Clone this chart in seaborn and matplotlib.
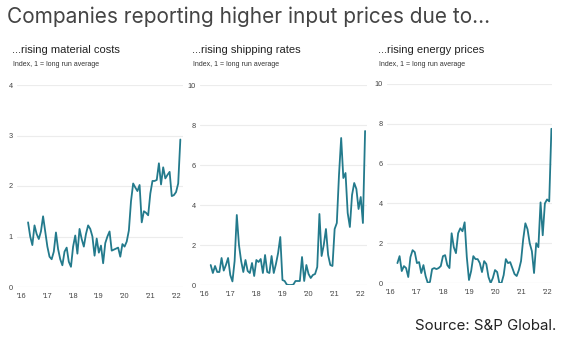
import numpy as np
import pandas as pd
import matplotlib
matplotlib.use("Agg")
import matplotlib.pyplot as plt
import seaborn as sns

# ---- data (monthly, Apr 2016 - Mar 2022) ----
months = pd.date_range("2016-04-01", "2022-03-01", freq="MS")

material_costs = [
    1.28, 1.00, 0.83, 1.22, 1.05, 0.95, 1.10, 1.40, 1.10,
    0.80, 0.60, 0.55, 0.70, 1.08, 0.75, 0.55, 0.43, 0.70, 0.78, 0.50, 0.40,
    0.80, 1.02, 0.66, 1.15, 0.95, 0.80, 1.05, 1.22, 1.15, 1.00, 0.62, 0.96,
    0.68, 0.82, 0.47, 0.87, 1.00, 1.10, 0.72, 0.74, 0.76, 0.78, 0.60, 0.85,
    0.80, 0.90, 1.12, 1.70, 2.05, 1.97, 1.90, 2.02, 1.28, 1.50, 1.47, 1.42,
    1.85, 2.10, 2.10, 2.12, 2.45, 2.03, 2.37, 2.15, 2.22, 2.28, 1.80, 1.82,
    1.88, 2.05, 2.92,
]

shipping_rates = [
    1.00, 0.60, 0.95, 0.65, 0.65, 1.35, 0.72, 1.00, 1.35,
    0.50, 0.18, 1.20, 3.50, 2.00, 1.20, 0.65, 1.25, 0.70, 0.60, 1.10, 0.45,
    1.25, 1.15, 1.30, 0.60, 1.50, 0.65, 0.60, 1.45, 0.60, 1.05, 1.60, 2.40,
    0.25, 0.20, 0.02, 0.00, 0.00, 0.02, 0.20, 0.20, 0.20, 1.40, 0.20, 1.00,
    0.55, 0.35, 0.50, 0.55, 0.90, 3.55, 1.45, 2.00, 2.80, 1.50, 1.00, 0.95,
    2.80, 3.10, 5.50, 7.35, 5.35, 5.60, 3.60, 2.90, 4.50, 5.10, 4.80, 3.80,
    4.40, 3.10, 7.70,
]

energy_prices = [
    1.00, 1.35, 0.60, 0.85, 0.75, 0.30, 1.30, 1.65, 1.55,
    1.00, 1.05, 0.50, 0.90, 0.35, 0.00, 0.05, 0.70, 0.75, 0.70, 0.75, 0.85,
    1.35, 1.40, 0.90, 0.75, 2.50, 1.80, 1.50, 2.50, 2.75, 2.60, 3.05, 1.30,
    0.15, 0.60, 1.35, 1.20, 1.20, 1.00, 0.55, 1.10, 0.95, 0.30, 0.00, 0.25,
    0.65, 0.55, 0.00, 0.00, 0.40, 1.20, 1.00, 1.05, 0.75, 0.45, 0.35, 0.65,
    1.10, 2.20, 3.00, 2.70, 2.00, 1.60, 0.50, 2.00, 1.80, 4.05, 2.40, 4.00,
    4.20, 4.10, 7.75,
]

titles = ["...rising material costs", "...rising shipping rates", "...rising energy prices"]
series = [material_costs, shipping_rates, energy_prices]
ymax = [4, 10, 10]
ystep = [1, 2, 2]
year_ticks = [2016, 2017, 2018, 2019, 2020, 2021, 2022]
year_labels = ["'16", "'17", "'18", "'19", "'20", "'21", "'22"]

# ---- figure ----
sns.set_theme(style="white")
plt.rcParams["font.family"] = ["Liberation Sans", "DejaVu Sans"]

W, H = 563, 344
fig = plt.figure(figsize=(W / 100, H / 100), dpi=100)

line_color = "#237a8c"

# axes boxes in pixels: (left, right, top, bottom) and x-limits
boxes = [(17, 183, 85, 287), (200, 367, 85, 285), (387, 552, 84, 283)]
xlims = [(2015.82, 2022.27), (2015.84, 2022.24), (2015.85, 2022.19)]
sub_x = [12, 192, 378]

xdec = months.year + (months.month - 1) / 12.0

for i in range(3):
    l, r, t, b = boxes[i]
    ax = fig.add_axes([l / W, 1 - b / H, (r - l) / W, (b - t) / H])
    df = pd.DataFrame({"x": xdec, "y": series[i]})
    sns.lineplot(data=df, x="x", y="y", ax=ax, color=line_color, lw=1.3)
    ax.set_xlim(*xlims[i])
    ax.set_ylim(0, ymax[i])
    yt = list(range(0, ymax[i] + 1, ystep[i]))
    ax.set_yticks(yt)
    ax.set_yticklabels([str(v) for v in yt])
    for v in yt[1:]:
        ax.axhline(v, color="#ececec", lw=0.8, zorder=0)
    ax.axhline(0, color="#d0d0d0", lw=0.8, zorder=0)
    ax.set_xticks(year_ticks)
    ax.set_xticklabels(year_labels)
    ax.tick_params(axis="both", length=0, labelsize=5.3, colors="#444444")
    ax.tick_params(axis="y", pad=3)
    ax.tick_params(axis="x", pad=4)
    ax.set_xlabel("")
    ax.set_ylabel("")
    for s in ax.spines.values():
        s.set_visible(False)
    ax.patch.set_alpha(0)
    fig.text(sub_x[i] / W, 1 - 50 / H, titles[i], fontsize=8.0, color="#222222",
             ha="left", va="center")
    fig.text((sub_x[i] + 1) / W, 1 - 65 / H, "Index, 1 = long run average",
             fontsize=5.0, color="#333333", ha="left", va="center")

fig.text(7 / W, 1 - 17 / H, "Companies reporting higher input prices due to...",
         fontsize=15, color="#444444", ha="left", va="center",
         family=["Inter", "DejaVu Sans"])
fig.text(556 / W, 1 - 326 / H, "Source: S&P Global.", fontsize=10.8,
         color="#222222", ha="right", va="center",
         family=["Inter", "DejaVu Sans"])

fig.savefig("out.png", dpi=100, facecolor="white")
